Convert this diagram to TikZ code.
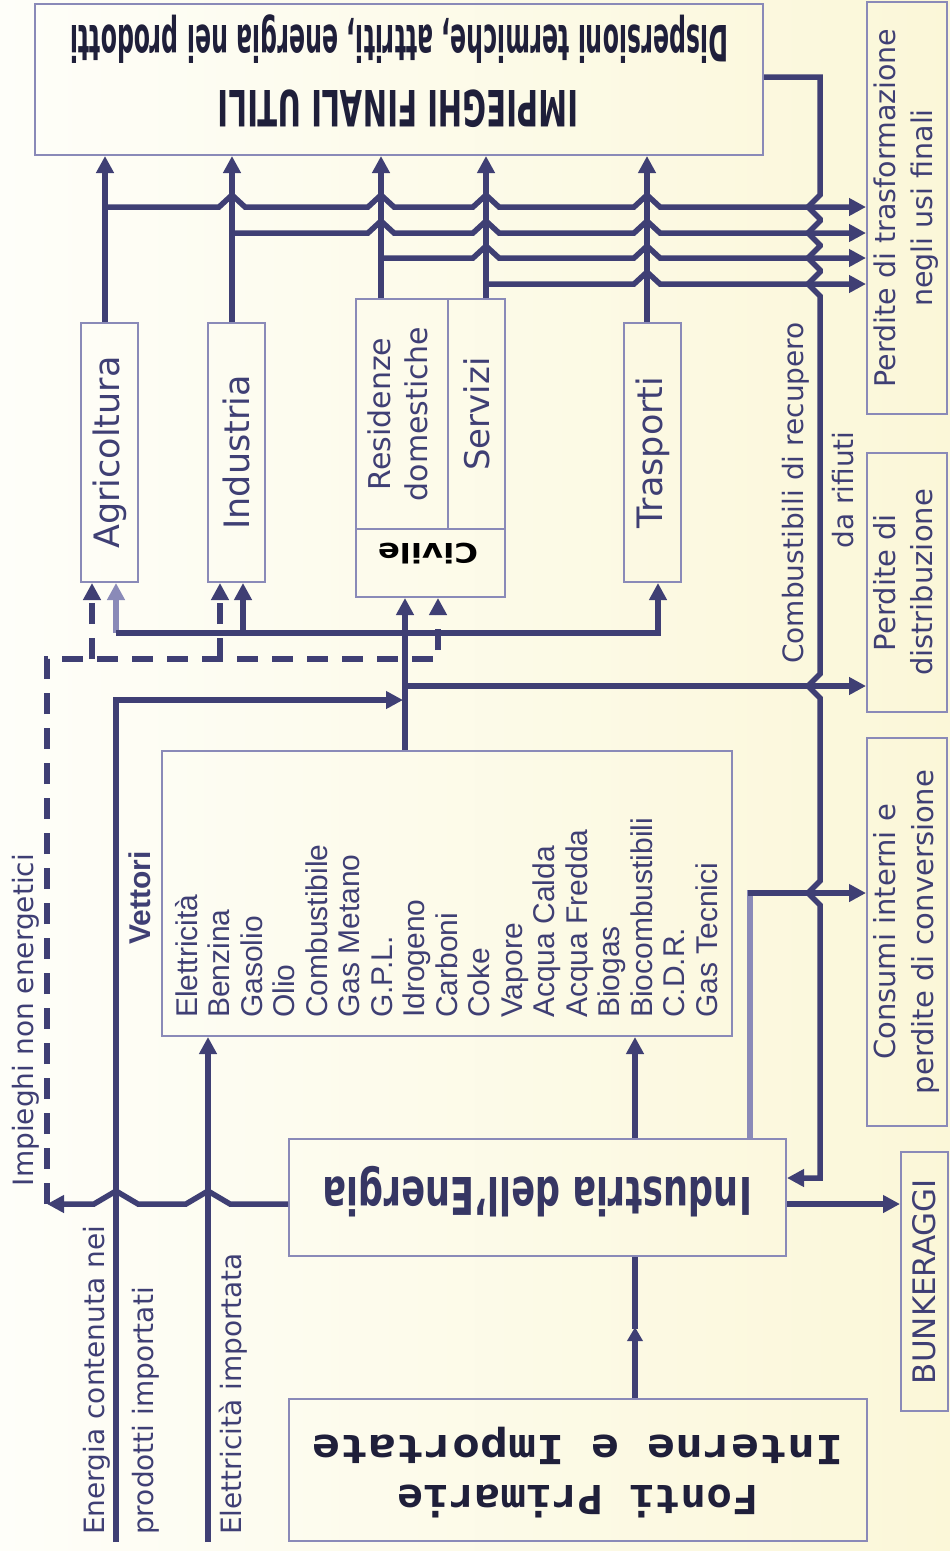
\documentclass[tikz,border=0pt]{standalone}
\usepackage{fontspec}
\usepackage{graphicx}
\setmainfont{DejaVu Sans}
\newfontfamily\listfont{Liberation Sans}
\newfontfamily\typefont{DejaVu Sans Mono}
\usetikzlibrary{arrows.meta,calc}
\definecolor{navy}{HTML}{3F3F74}
\definecolor{frame}{HTML}{8A8AB8}
\definecolor{ink}{HTML}{1F1F3A}
\definecolor{paper}{HTML}{FEFEF9}
\definecolor{cream}{HTML}{FBF7D8}
\newcommand{\fsz}[2]{\fontsize{#1}{#2}\selectfont}
\newcommand{\uptext}[1]{\rotatebox{90}{\begin{tabular}{@{}c@{}}#1\end{tabular}}}

\begin{document}
\begin{tikzpicture}[x=1pt, y=-1pt,
  box/.style={draw=frame, line width=2pt, inner sep=0pt, text=navy},
  flow/.style={draw=navy, line width=5.5pt},
  pale/.style={draw=frame, line width=6pt},
  tip/.style={-{Triangle[length=17pt,width=17pt]}},
  dashflow/.style={flow, dash pattern=on 21pt off 14pt},
  ttl/.style={rotate=180, anchor=base, inner sep=0pt, text=ink},
  side/.style={rotate=90, inner sep=0pt, text=navy, font=\fsz{28}{34}},
  vlist/.style={rotate=90, anchor=base west, inner sep=0pt, text=navy,
                font=\listfont\fsz{30}{36}}
]
\useasboundingbox (0,0) rectangle (950,1551);
\shade[left color=paper, right color=cream] (0,0) rectangle (950,1551);

\node[box, minimum width=728pt, minimum height=151pt] (top) at (399,79.5) {};
\node[box, minimum width=80pt, minimum height=412pt, font=\fsz{28.5}{37}] (ptras) at (907,208)
  {\uptext{Perdite di trasformazione\\negli usi finali}};
\node[box, minimum width=80pt, minimum height=259pt, font=\fsz{29}{37}] (pdist) at (907,582.5)
  {\uptext{Perdite di\\distribuzione}};
\node[box, minimum width=80pt, minimum height=388pt, font=\fsz{29}{38}] (pcons) at (907,932)
  {\uptext{Consumi interni e\\perdite di conversione}};
\node[box, minimum width=47pt, minimum height=259pt, font=\fsz{31}{37}] (bunk) at (924.5,1281.5)
  {\rotatebox{90}{BUNKERAGGI}};
\node[box, minimum width=578pt, minimum height=142pt] (fonti) at (578,1470) {};
\node[box, minimum width=497pt, minimum height=117pt] (ind) at (537.5,1197.5) {};
\node[box, minimum width=570pt, minimum height=285pt] (vett) at (447,893.5) {};
\node[box, minimum width=57pt, minimum height=259pt, font=\fsz{35}{42}] (agr) at (109.5,452.5)
  {\rotatebox{90}{Agricoltura}};
\node[box, minimum width=57pt, minimum height=259pt, font=\fsz{35}{42}] (indu) at (236.5,452.5)
  {\rotatebox{90}{Industria}};
\node[box, minimum width=92pt, minimum height=230pt, font=\fsz{30}{37}] (res) at (402,414)
  {\uptext{Residenze\\domestiche}};
\node[box, minimum width=57pt, minimum height=230pt, font=\fsz{34}{40}] (serv) at (476.5,414)
  {\rotatebox{90}{Servizi}};
\node[box, minimum width=149pt, minimum height=68pt] (civ) at (430.5,563) {};
\node[box, minimum width=57pt, minimum height=259pt, font=\fsz{35}{42}] (tras) at (652.5,452.5)
  {\rotatebox{90}{Trasporti}};

\node[ttl, font=\bfseries\fsz{50}{60}] (disp) at (399,25)
  {\resizebox{658pt}{\height}{Dispersioni termiche, attriti, energia nei prodotti}};
\node[ttl, font=\bfseries\fsz{50}{60}] (impfin) at (398,90)
  {\resizebox{360pt}{\height}{IMPIEGHI FINALI UTILI}};
\node[ttl, text=black, font=\bfseries\fsz{27}{32}] (civtxt) at (428,543)
  {\resizebox{100pt}{\height}{Civile}};
\node[ttl, text=navy!85!black, font=\bfseries\fsz{52}{62}] (indtxt) at (537.5,1177)
  {\resizebox{429pt}{\height}{Industria dell'Energia}};
\node[ttl, font=\typefont\bfseries\fsz{40}{48}] (fonti2) at (578,1435)
  {\resizebox{530pt}{\height}{Interne e Importate}};
\node[ttl, font=\typefont\bfseries\fsz{40}{48}] (fonti1) at (578,1485)
  {\resizebox{360pt}{\height}{Fonti Primarie}};

\node[side, anchor=base] (nonlbl) at (33,1020) {Impieghi non energetici};
\node[side, anchor=base west] (imp1) at (104,1535) {Energia contenuta nei};
\node[side, anchor=base west] (imp2) at (153,1535) {prodotti importati};
\node[side, anchor=base west] (ellbl) at (241,1535) {Elettricità importata};
\node[side, anchor=base] (rec1) at (803,493) {Combustibili di recupero};
\node[side, anchor=base] (rec2) at (853,490) {da rifiuti};
\node[vlist, font=\listfont\bfseries\fsz{30}{36}] (vettlbl) at (150,945) {Vettori};
\foreach \v [count=\i from 0] in {Elettricità,Benzina,Gasolio,Olio,Combustibile,Gas Metano,
    G.P.L.,Idrogeno,Carboni,Coke,Vapore,Acqua Calda,Acqua Fredda,Biogas,Biocombustibili,
    C.D.R.,Gas Tecnici}
  \node[vlist] (vt\i) at ($(vett.south west)+(36+32.5*\i,-19)$) {\v};

\coordinate (ca) at (105,0);
\coordinate (ci) at (232,0);
\coordinate (cr) at (381,0);
\coordinate (cs) at (486,0);
\coordinate (ct) at (647,0);
\coordinate (cc) at (405,0);
\coordinate (cw) at (820,0);
\coordinate (cl) at (116,0);
\coordinate (ce) at (208,0);
\coordinate (cv) at (635,0);
\coordinate (cp) at (750,0);
\coordinate (neu) at (47,1204);

\foreach \c/\b in {ca/agr,ci/indu,cr/res,cs/serv,ct/tras}
  \draw[flow,tip] (\c |- \b.north) -- (\c |- top.south);
\draw[flow,tip] (ca |- 0,207) \foreach \h in {232,381,486,647}
  {-- (\h-13,207) -- (\h,195) -- (\h+13,207)} -- (ptras.west |- 0,207);
\draw[flow,tip] (ci |- 0,233) \foreach \h in {381,486,647}
  {-- (\h-13,233) -- (\h,221) -- (\h+13,233)} -- (ptras.west |- 0,233);
\draw[flow,tip] (cr |- 0,258) \foreach \h in {486,647}
  {-- (\h-13,258) -- (\h,246) -- (\h+13,258)} -- (ptras.west |- 0,258);
\draw[flow,tip] (cs |- 0,284) \foreach \h in {647}
  {-- (\h-13,284) -- (\h,272) -- (\h+13,284)} -- (ptras.west |- 0,284);
\draw[flow,tip] (top.east |- 0,77) -- (cw |- 0,77) \foreach \y in {207,233,258,284,686,893}
  {-- (820,\y-12) -- (808,\y) -- (820,\y+12)} -- (820,1178) -- (ind.east |- 0,1178);

\draw[flow,tip] (cc |- vett.north) -- (cc |- civ.south);
\draw[pale,tip] (cl |- 0,633) -- (cl |- agr.south);
\draw[flow,tip] (cl |- 0,633) -- (658,633) -- (658,0 |- tras.south);
\draw[flow,tip] (243,633) -- (243,0 |- indu.south);
\draw[flow,tip] (cc |- 0,686) -- (pdist.west |- 0,686);

\draw[flow,tip,shorten >=2pt] (cl |- fonti.south) -- (cl |- 0,700) -- (cc |- 0,700);
\draw[flow,tip] (ce |- fonti.south) -- (ce |- vett.south);
\draw[flow,tip] (cv |- ind.north) -- (cv |- vett.south);
\draw[flow,-{Triangle[length=14pt,width=15pt]}] (cv |- fonti.north) -- (cv |- 0,1327);
\draw[flow] (cv |- 0,1329) -- (cv |- ind.south);
\draw[flow,tip] (ind.east |- 0,1204) -- (bunk.west |- 0,1204);
\draw[flow,tip] (ind.west |- 0,1204) \foreach \h in {208,116}
  {-- (\h+22,1204) -- (\h,1191) -- (\h-22,1204)} -- (neu);
\draw[dashflow,tip] (neu) -- (neu |- 0,659) -- (438,659) -- (438,0 |- civ.south);
\draw[dashflow,tip] (92,659) -- (92,0 |- agr.south);
\draw[dashflow,tip] (220,659) -- (220,0 |- indu.south);
\draw[pale] (cp |- ind.north) -- (cp |- 0,890);
\draw[flow,tip] (747.5,893) -- (pcons.west |- 0,893);
\end{tikzpicture}
\end{document}
